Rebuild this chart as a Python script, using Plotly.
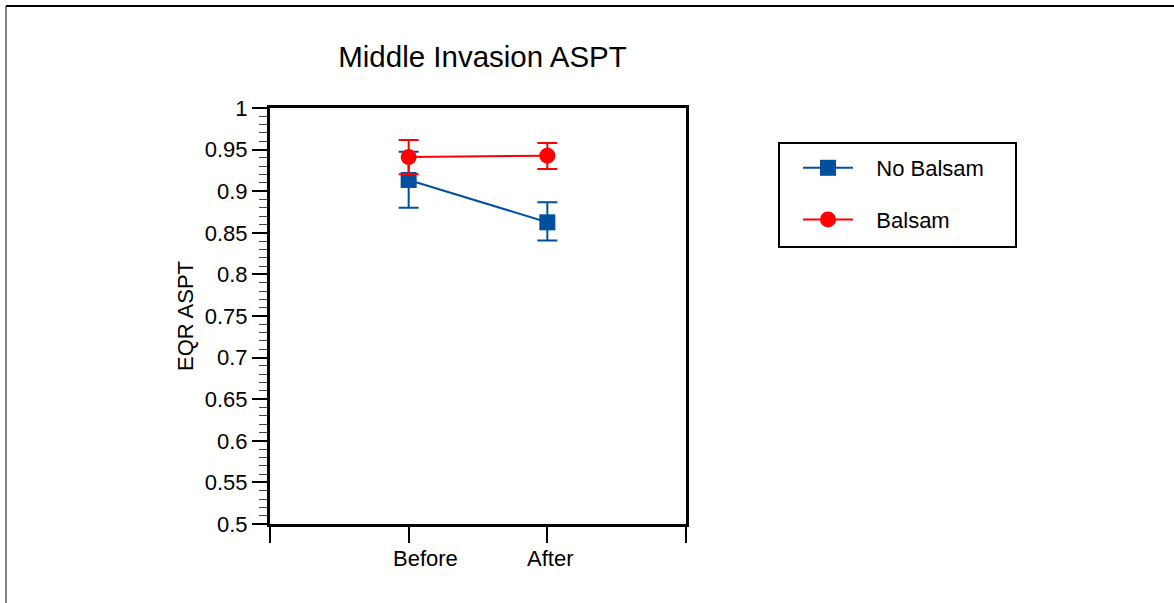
import plotly.graph_objects as go

# Sampling periods (plotted at x = 1, 2 on a 0..3 axis)
periods = ["Before", "After"]
period_pos = [1, 2]
period_label_shift = [17, 3]

# Mean EQR ASPT with error bar extents
no_balsam_mean = [0.9135, 0.8626]
no_balsam_err_plus = [0.034, 0.024]
no_balsam_err_minus = [0.0335, 0.022]

balsam_mean = [0.941, 0.9427]
balsam_err_plus = [0.0205, 0.0153]
balsam_err_minus = [0.0205, 0.016]

y_tick_vals = [0.5, 0.55, 0.6, 0.65, 0.7, 0.75, 0.8, 0.85, 0.9, 0.95, 1.0]
y_tick_text = ["0.5", "0.55", "0.6", "0.65", "0.7", "0.75", "0.8", "0.85", "0.9", "0.95", "1"]

FONT = "Liberation Sans, Arial, Helvetica, sans-serif"
FS = 22
BLUE = "#00509f"
RED = "#ff0000"
PAD = "\u00a0\u00a0\u00a0"

W, H = 1174, 603
L, R, T, B = 270, 1174 - 686, 108, 603 - 524
pw, ph = W - L - R, H - T - B


def px_x(px):
    return (px - L) / pw


def px_y(py):
    return (H - B - py) / ph


fig = go.Figure()

fig.add_trace(go.Scatter(
    x=period_pos, y=no_balsam_mean, name=PAD + "No Balsam", mode="lines+markers",
    legendgroup="a",
    line=dict(color=BLUE, width=2),
    marker=dict(symbol="square", size=16, color=BLUE),
    error_y=dict(type="data", symmetric=False, array=no_balsam_err_plus,
                 arrayminus=no_balsam_err_minus, color=BLUE, thickness=2, width=10),
))
fig.add_trace(go.Scatter(
    x=period_pos, y=balsam_mean, name=PAD + "Balsam", mode="lines+markers",
    legendgroup="b",
    line=dict(color=RED, width=2),
    marker=dict(symbol="circle", size=16, color=RED),
    error_y=dict(type="data", symmetric=False, array=balsam_err_plus,
                 arrayminus=balsam_err_minus, color=RED, thickness=2, width=10),
))

# outer frame (top and left edges)
fig.add_shape(type="line", xref="paper", yref="paper", x0=px_x(6), x1=3, y0=px_y(6), y1=px_y(6),
              line=dict(color="black", width=2))
fig.add_shape(type="line", xref="paper", yref="paper", x0=px_x(6), x1=px_x(6), y0=-1, y1=px_y(6),
              line=dict(color="black", width=1))
# legend frame
fig.add_shape(type="rect", xref="paper", yref="paper", x0=px_x(779), x1=px_x(1016),
              y0=px_y(247), y1=px_y(143), line=dict(color="black", width=2), fillcolor="white",
              layer="below")

# category labels under the x axis
for name, pos, shift in zip(periods, period_pos, period_label_shift):
    fig.add_annotation(x=pos, y=px_y(558), xref="x", yref="paper", text=name,
                       showarrow=False, xanchor="center", yanchor="middle", xshift=shift,
                       font=dict(size=FS, family=FONT, color="black"))

fig.update_layout(
    width=W, height=H,
    margin=dict(l=L, r=R, t=T, b=B, autoexpand=False),
    paper_bgcolor="white", plot_bgcolor="white",
    font=dict(family=FONT, size=FS, color="black"),
    title=dict(text="Middle Invasion ASPT", x=(482.5 - L) / pw, xref="paper", xanchor="center",
               y=1 - 57 / H, yanchor="middle", font=dict(size=29.5, family=FONT, color="black")),
    showlegend=True,
    legend=dict(
        x=px_x(798), y=px_y(147), xanchor="left", yanchor="top",
        borderwidth=0, bgcolor="rgba(0,0,0,0)",
        font=dict(size=FS, family=FONT, color="black"),
        traceorder="grouped", tracegroupgap=20, itemwidth=50,
    ),
    xaxis=dict(
        range=[0, 3], tickmode="array", tickvals=[0, 1, 2, 3],
        showticklabels=False,
        ticks="outside", ticklen=16, tickwidth=1.5, tickcolor="black",
        showline=True, linecolor="black", linewidth=3, mirror=True,
        showgrid=False, zeroline=False, automargin=False,
    ),
    yaxis=dict(
        range=[0.5, 1.0], tickmode="array", tickvals=y_tick_vals, ticktext=y_tick_text,
        ticks="outside", ticklen=15, tickwidth=1.5, tickcolor="black",
        minor=dict(dtick=0.01, tick0=0.5, ticks="outside", ticklen=8, tickwidth=1, tickcolor="#444"),
        showline=True, linecolor="black", linewidth=3, mirror=True,
        showgrid=False, zeroline=False, automargin=False,
        title=dict(text="EQR ASPT", standoff=6, font=dict(size=FS, family=FONT)),
    ),
)

fig.write_html("out.html")
